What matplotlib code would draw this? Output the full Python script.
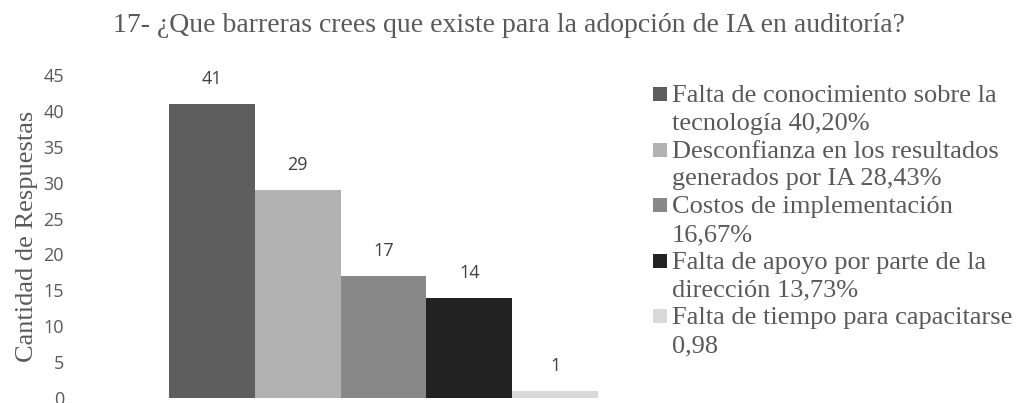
import matplotlib.pyplot as plt
from matplotlib.patches import Rectangle

plt.rcParams['font.family'] = ['Liberation Serif', 'DejaVu Serif']

categorias = [
    'Falta de conocimiento sobre la\ntecnología 40,20%',
    'Desconfianza en los resultados\ngenerados por IA 28,43%',
    'Costos de implementación\n16,67%',
    'Falta de apoyo por parte de la\ndirección 13,73%',
    'Falta de tiempo para capacitarse\n0,98',
]
respuestas = [41, 29, 17, 14, 1]
colores = ['#5e5e5e', '#b2b2b2', '#888888', '#222222', '#d9d9d9']
yticks = [0, 5, 10, 15, 20, 25, 30, 35, 40, 45]

W, H = 1018, 403
fig = plt.figure(figsize=(W / 100, H / 100), dpi=100)
ax = fig.add_axes([75 / W, 5 / H, 617 / W, 323 / H])

pos = list(range(len(respuestas)))
ax.bar(pos, respuestas, width=1.0, color=colores, edgecolor='none')
for x, v in zip(pos, respuestas):
    ax.annotate(str(v), (x, v), xytext=(0, 18), textcoords='offset points',
                ha='center', va='center', fontsize=13, color='#404040',
                family=['Open Sans', 'DejaVu Sans'])

ax.set_xlim(-0.5 - 1.095, 4.5 + 1.095)
ax.set_ylim(0, 45)
ax.set_yticks(yticks)
ax.set_xticks([])
ax.tick_params(axis='y', length=0, pad=8, labelsize=13, labelcolor='#595959')
for lab in ax.get_yticklabels():
    lab.set_family(['Open Sans', 'DejaVu Sans'])
for s in ax.spines.values():
    s.set_visible(False)

ax.set_ylabel('Cantidad de Respuestas', fontsize=19, color='#595959', labelpad=4)

fig.text(0.5, 1 - 25 / H, '17- ¿Que barreras crees que existe para la adopción de IA en auditoría?',
         ha='center', va='center', fontsize=20, color='#595959')

# leyenda a mano: el cuadrito va alineado con la primera línea de cada entrada
linea = 0
paso = 27.8
for cat, col in zip(categorias, colores):
    base = 102 + paso * linea
    fig.patches.append(Rectangle((653 / W, 1 - (base - 1) / H), 14 / W, 14 / H,
                                 transform=fig.transFigure, facecolor=col, edgecolor='none'))
    for parte in cat.split('\n'):
        base = 102 + paso * linea
        fig.text(672 / W, 1 - base / H, parte, ha='left', va='baseline',
                 fontsize=19, color='#595959')
        linea += 1

fig.savefig('out.png', dpi=100)
